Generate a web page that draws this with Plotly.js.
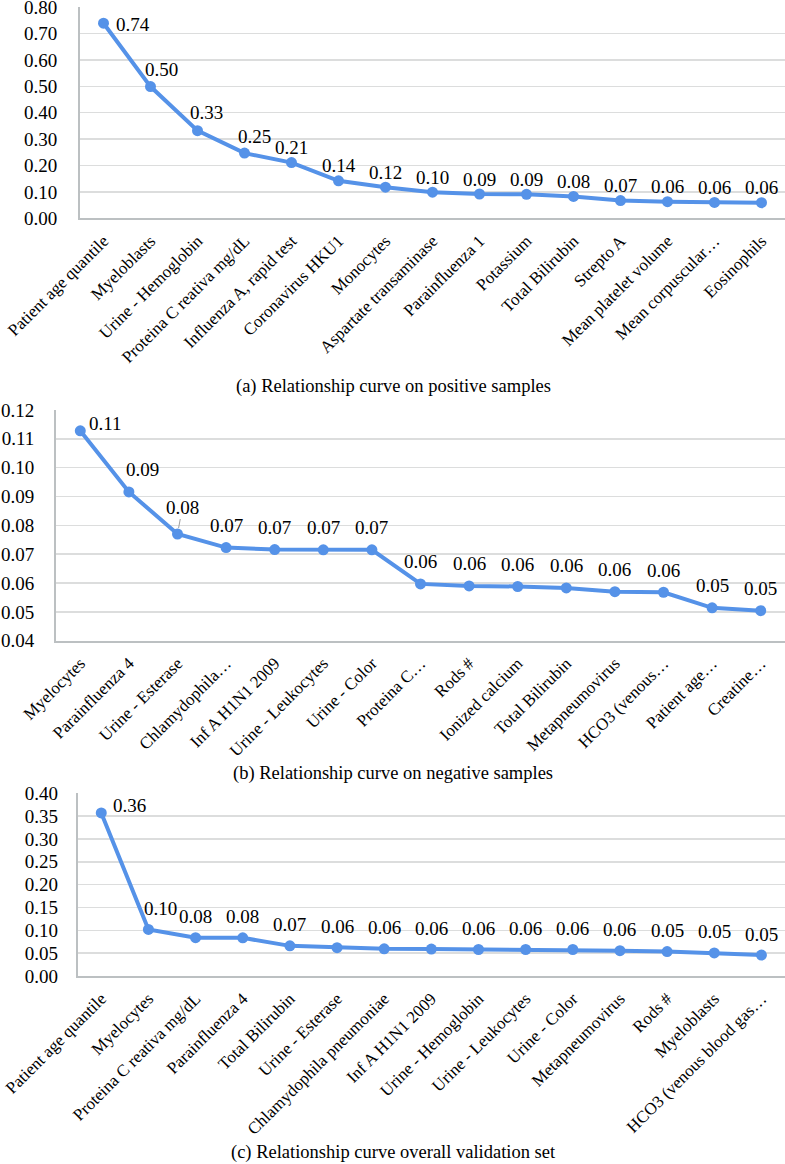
<!DOCTYPE html>
<html>
<head>
<meta charset="utf-8">
<script src="https://cdn.plot.ly/plotly-3.0.1.min.js"></script>
<style>
html,body{margin:0;padding:0;background:#fff;}
#chart{width:785px;height:1164px;}
</style>
</head>
<body>
<div id="chart"></div>
<script>
// ---- Data ----
const catsA = ["Patient age quantile","Myeloblasts","Urine - Hemoglobin","Proteina C reativa mg/dL","Influenza A, rapid test","Coronavirus HKU1","Monocytes","Aspartate transaminase","Parainfluenza 1","Potassium","Total Bilirubin","Strepto A","Mean platelet volume","Mean corpuscular…","Eosinophils"];
const valsA = [0.739, 0.499, 0.332, 0.247, 0.211, 0.142, 0.118, 0.099, 0.092, 0.091, 0.083, 0.067, 0.063, 0.060, 0.059];

const catsB = ["Myelocytes","Parainfluenza 4","Urine - Esterase","Chlamydophila…","Inf A H1N1 2009","Urine - Leukocytes","Urine - Color","Proteina C…","Rods #","Ionized calcium","Total Bilirubin","Metapneumovirus","HCO3 (venous…","Patient age…","Creatine…"];
const valsB = [0.1128, 0.0916, 0.0770, 0.0723, 0.0716, 0.0715, 0.0715, 0.0597, 0.0590, 0.0588, 0.0583, 0.0570, 0.0568, 0.0514, 0.0504];

const catsC = ["Patient age quantile","Myelocytes","Proteina C reativa mg/dL","Parainfluenza 4","Total Bilirubin","Urine - Esterase","Chlamydophila pneumoniae","Inf A H1N1 2009","Urine - Hemoglobin","Urine - Leukocytes","Urine - Color","Metapneumovirus","Rods #","Myeloblasts","HCO3 (venous blood gas…"];
const valsC = [0.357, 0.102, 0.084, 0.0835, 0.066, 0.062, 0.0595, 0.059, 0.058, 0.058, 0.058, 0.0555, 0.0535, 0.0505, 0.0458];

const captions = ["(a) Relationship curve on positive samples","(b) Relationship curve on negative samples","(c) Relationship curve overall validation set"];

// ---- Style ----
const W = 785, H = 1164;
const FONT = 'Liberation Serif';
const LINE = "#5592e8";
const AXC = "#bcc0c2";
const GRID = "#dcdddd";

function trace(cats, vals, xa, ya){
  return {x: cats.map((c,i)=>i), y: vals, xaxis: xa, yaxis: ya, type:'scatter', mode:'lines+markers',
    line:{color:LINE, width:4}, marker:{color:LINE, size:11}, cliponaxis:false, hoverinfo:'skip', showlegend:false};
}

function xax(cats, left, anchor){
  return {domain:[left/W, 1], anchor: anchor, range:[-0.5, cats.length-0.5],
    tickmode:'array', tickvals: cats.map((c,i)=>i), ticktext: cats,
    tickangle:-45, tickfont:{family:FONT, size:17, color:'#000'},
    showgrid:false, zeroline:false, showline:true, linecolor:AXC, linewidth:2,
    ticks:'', ticklabelstandoff:4, ticklabeloverflow:'allow', fixedrange:true};
}
function yax(top, bottom, range, dtick, anchor, standoff){
  return {domain:[1-bottom/H, 1-top/H], anchor: anchor, range: [range[0], range[1] + dtick*1e-4], dtick: dtick, tick0: range[0],
    tickformat:'.2f', tickfont:{family:FONT, size:19, color:'#000'},
    showgrid:true, gridcolor:GRID, gridwidth:1.5, zeroline:false,
    showline:true, linecolor:AXC, linewidth:2, ticks:'', ticklabelstandoff:standoff,
    ticklabeloverflow:'allow', fixedrange:true};
}

// label offsets (style only)
const shiftA = {0:[29,-1], 1:[11,17], 2:[9,18], 3:[10,17]};
const shiftB = {0:[25,7], 1:[14,22]};
const shiftC = {0:[28,7], 1:[12,21]};

function labels(vals, xref, yref, up, shifts){
  return vals.map((v,i)=>({
    xref:xref, yref:yref, x:i, y:v, text:v.toFixed(2), showarrow:false,
    font:{family:FONT, size:19, color:'#000'},
    xshift: shifts[i] ? shifts[i][0] : 0,
    yshift: shifts[i] ? shifts[i][1] : up
  }));
}

const annA = labels(valsA, 'x', 'y', 15, shiftA);
const annB = labels(valsB, 'x2', 'y2', 22, shiftB);
// leader line for third label of panel b
annB[2] = {xref:'x2', yref:'y2', x:2, y:valsB[2], text:valsB[2].toFixed(2), showarrow:true,
  arrowhead:0, arrowwidth:1, arrowcolor:'#a0a0a0', ax:5, ay:-27, standoff:6,
  font:{family:FONT, size:19, color:'#000'}};
const annC = labels(valsC, 'x3', 'y3', 21, shiftC);

const capY = [387, 773, 1152];
const capAnn = captions.map((t,i)=>({xref:'paper', yref:'paper', x:393/W, y:1-capY[i]/H,
  xanchor:'center', yanchor:'middle', text:t, showarrow:false, font:{family:FONT, size:18.5, color:'#000'}}));

const data = [trace(catsA, valsA, 'x', 'y'), trace(catsB, valsB, 'x2', 'y2'), trace(catsC, valsC, 'x3', 'y3')];

const layout = {
  width: W, height: H, margin:{l:0, r:0, t:0, b:0}, paper_bgcolor:'#fff', plot_bgcolor:'#fff',
  showlegend:false, font:{family:FONT},
  xaxis: xax(catsA, 80, 'y'),
  yaxis: yax(7.1, 218.3, [0, 0.8], 0.1, 'x', 17),
  xaxis2: xax(catsB, 56, 'y2'),
  yaxis2: yax(410, 640.7, [0.04, 0.12], 0.01, 'x2', 16),
  xaxis3: xax(catsC, 77.7, 'y3'),
  yaxis3: yax(793.3, 976, [0, 0.4], 0.05, 'x3', 14),
  annotations: annA.concat(annB, annC, capAnn)
};

Plotly.newPlot('chart', data, layout, {displayModeBar:false, staticPlot:true});
</script>
</body>
</html>
